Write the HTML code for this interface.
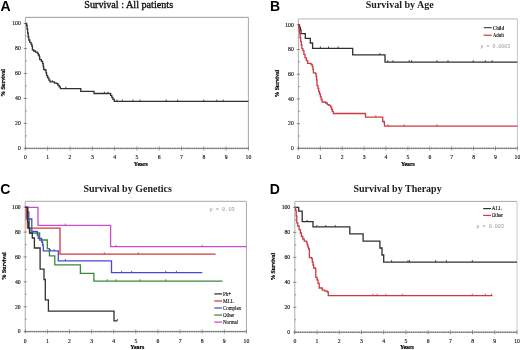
<!DOCTYPE html>
<html><head><meta charset="utf-8"><title>Survival curves</title>
<style>html,body{margin:0;padding:0;background:#fff;width:520px;height:350px;overflow:hidden}svg{display:block;will-change:transform}</style>
</head><body>
<svg width="520" height="350" viewBox="0 0 520 350">
<style>
text{font-family:"Liberation Serif",serif;fill:#222}
.lab{font-size:6.4px;fill:#111;stroke:#111;stroke-width:0.16px}
.ttl{font-size:10.2px;fill:#111;stroke:#111;stroke-width:0.35px}
.ttlb{font-size:10px;font-weight:bold}
.pl{font-family:"Liberation Sans",sans-serif;font-weight:bold;font-size:14px;fill:#000}
.yl{font-size:5.8px;font-weight:bold;fill:#000;stroke:#000;stroke-width:0.2px}
.yr{font-size:6.5px;font-weight:bold;fill:#000;stroke:#000;stroke-width:0.22px}
.leg{font-size:5.5px;fill:#111;stroke:#111;stroke-width:0.12px}
.legb{font-size:5.4px;font-weight:bold;fill:#111}
.pv{font-family:"Liberation Mono",monospace;font-size:5px;fill:#a4a4a4;stroke:#b0b0b0;stroke-width:0.06px}
</style>
<path d="M25.4,17.35H248.4" fill="none" stroke="#9a9a9a" stroke-width="1"/>
<path d="M248.4,17.35V148.4" fill="none" stroke="#a8a8a8" stroke-width="1"/>
<path d="M25.4,17.35V148.4" fill="none" stroke="#b4b4b4" stroke-width="1.1"/>
<path d="M25.4,148.4H248.4" fill="none" stroke="#8a8a8a" stroke-width="1"/>
<path d="M23.799999999999997,148.40H27.0M25.4,135.91H26.799999999999997M23.799999999999997,123.42H27.0M25.4,110.93H26.799999999999997M23.799999999999997,98.44H27.0M25.4,85.95H26.799999999999997M23.799999999999997,73.46H27.0M25.4,60.97H26.799999999999997M23.799999999999997,48.48H27.0M25.4,35.99H26.799999999999997M23.799999999999997,23.50H27.0M25.40,146.4V150.4M27.26,147.6V149.20000000000002M29.12,147.6V149.20000000000002M30.97,147.6V149.20000000000002M32.83,147.6V149.20000000000002M34.69,147.6V149.20000000000002M36.55,147.6V149.20000000000002M38.41,147.6V149.20000000000002M40.27,147.6V149.20000000000002M42.12,147.6V149.20000000000002M43.98,147.6V149.20000000000002M45.84,147.6V149.20000000000002M47.70,146.4V150.4M49.56,147.6V149.20000000000002M51.42,147.6V149.20000000000002M53.27,147.6V149.20000000000002M55.13,147.6V149.20000000000002M56.99,147.6V149.20000000000002M58.85,147.6V149.20000000000002M60.71,147.6V149.20000000000002M62.57,147.6V149.20000000000002M64.42,147.6V149.20000000000002M66.28,147.6V149.20000000000002M68.14,147.6V149.20000000000002M70.00,146.4V150.4M71.86,147.6V149.20000000000002M73.72,147.6V149.20000000000002M75.58,147.6V149.20000000000002M77.43,147.6V149.20000000000002M79.29,147.6V149.20000000000002M81.15,147.6V149.20000000000002M83.01,147.6V149.20000000000002M84.87,147.6V149.20000000000002M86.72,147.6V149.20000000000002M88.58,147.6V149.20000000000002M90.44,147.6V149.20000000000002M92.30,146.4V150.4M94.16,147.6V149.20000000000002M96.02,147.6V149.20000000000002M97.88,147.6V149.20000000000002M99.73,147.6V149.20000000000002M101.59,147.6V149.20000000000002M103.45,147.6V149.20000000000002M105.31,147.6V149.20000000000002M107.17,147.6V149.20000000000002M109.03,147.6V149.20000000000002M110.88,147.6V149.20000000000002M112.74,147.6V149.20000000000002M114.60,146.4V150.4M116.46,147.6V149.20000000000002M118.32,147.6V149.20000000000002M120.17,147.6V149.20000000000002M122.03,147.6V149.20000000000002M123.89,147.6V149.20000000000002M125.75,147.6V149.20000000000002M127.61,147.6V149.20000000000002M129.47,147.6V149.20000000000002M131.33,147.6V149.20000000000002M133.18,147.6V149.20000000000002M135.04,147.6V149.20000000000002M136.90,146.4V150.4M138.76,147.6V149.20000000000002M140.62,147.6V149.20000000000002M142.47,147.6V149.20000000000002M144.33,147.6V149.20000000000002M146.19,147.6V149.20000000000002M148.05,147.6V149.20000000000002M149.91,147.6V149.20000000000002M151.77,147.6V149.20000000000002M153.62,147.6V149.20000000000002M155.48,147.6V149.20000000000002M157.34,147.6V149.20000000000002M159.20,146.4V150.4M161.06,147.6V149.20000000000002M162.92,147.6V149.20000000000002M164.78,147.6V149.20000000000002M166.63,147.6V149.20000000000002M168.49,147.6V149.20000000000002M170.35,147.6V149.20000000000002M172.21,147.6V149.20000000000002M174.07,147.6V149.20000000000002M175.93,147.6V149.20000000000002M177.78,147.6V149.20000000000002M179.64,147.6V149.20000000000002M181.50,146.4V150.4M183.36,147.6V149.20000000000002M185.22,147.6V149.20000000000002M187.08,147.6V149.20000000000002M188.93,147.6V149.20000000000002M190.79,147.6V149.20000000000002M192.65,147.6V149.20000000000002M194.51,147.6V149.20000000000002M196.37,147.6V149.20000000000002M198.23,147.6V149.20000000000002M200.08,147.6V149.20000000000002M201.94,147.6V149.20000000000002M203.80,146.4V150.4M205.66,147.6V149.20000000000002M207.52,147.6V149.20000000000002M209.38,147.6V149.20000000000002M211.23,147.6V149.20000000000002M213.09,147.6V149.20000000000002M214.95,147.6V149.20000000000002M216.81,147.6V149.20000000000002M218.67,147.6V149.20000000000002M220.53,147.6V149.20000000000002M222.38,147.6V149.20000000000002M224.24,147.6V149.20000000000002M226.10,146.4V150.4M227.96,147.6V149.20000000000002M229.82,147.6V149.20000000000002M231.68,147.6V149.20000000000002M233.53,147.6V149.20000000000002M235.39,147.6V149.20000000000002M237.25,147.6V149.20000000000002M239.11,147.6V149.20000000000002M240.97,147.6V149.20000000000002M242.82,147.6V149.20000000000002M244.68,147.6V149.20000000000002M246.54,147.6V149.20000000000002M248.40,146.4V150.4" fill="none" stroke="#6e6e6e" stroke-width="0.8"/>
<text x="20.80" y="150.20" class="lab" text-anchor="end" textLength="2.85" lengthAdjust="spacingAndGlyphs">0</text>
<text x="20.80" y="125.22" class="lab" text-anchor="end" textLength="5.70" lengthAdjust="spacingAndGlyphs">20</text>
<text x="20.80" y="100.24" class="lab" text-anchor="end" textLength="5.70" lengthAdjust="spacingAndGlyphs">40</text>
<text x="20.80" y="75.26" class="lab" text-anchor="end" textLength="5.70" lengthAdjust="spacingAndGlyphs">60</text>
<text x="20.80" y="50.28" class="lab" text-anchor="end" textLength="5.70" lengthAdjust="spacingAndGlyphs">80</text>
<text x="20.80" y="25.30" class="lab" text-anchor="end" textLength="8.55" lengthAdjust="spacingAndGlyphs">100</text>
<text x="25.40" y="159.30" class="lab" text-anchor="middle" textLength="2.85" lengthAdjust="spacingAndGlyphs">0</text>
<text x="47.70" y="159.30" class="lab" text-anchor="middle" textLength="2.85" lengthAdjust="spacingAndGlyphs">1</text>
<text x="70.00" y="159.30" class="lab" text-anchor="middle" textLength="2.85" lengthAdjust="spacingAndGlyphs">2</text>
<text x="92.30" y="159.30" class="lab" text-anchor="middle" textLength="2.85" lengthAdjust="spacingAndGlyphs">3</text>
<text x="114.60" y="159.30" class="lab" text-anchor="middle" textLength="2.85" lengthAdjust="spacingAndGlyphs">4</text>
<text x="136.90" y="159.30" class="lab" text-anchor="middle" textLength="2.85" lengthAdjust="spacingAndGlyphs">5</text>
<text x="159.20" y="159.30" class="lab" text-anchor="middle" textLength="2.85" lengthAdjust="spacingAndGlyphs">6</text>
<text x="181.50" y="159.30" class="lab" text-anchor="middle" textLength="2.85" lengthAdjust="spacingAndGlyphs">7</text>
<text x="203.80" y="159.30" class="lab" text-anchor="middle" textLength="2.85" lengthAdjust="spacingAndGlyphs">8</text>
<text x="226.10" y="159.30" class="lab" text-anchor="middle" textLength="2.85" lengthAdjust="spacingAndGlyphs">9</text>
<text x="248.40" y="159.30" class="lab" text-anchor="middle" textLength="5.70" lengthAdjust="spacingAndGlyphs">10</text>
<text x="0.4" y="11.4" class="pl">A</text>
<text x="84.3" y="7.8" class="ttl" textLength="88.8" lengthAdjust="spacingAndGlyphs">Survival : All patients</text>
<text x="140.8" y="165.7" class="yr" text-anchor="middle" textLength="14" lengthAdjust="spacingAndGlyphs">Years</text>
<text transform="translate(5.4,82.9) rotate(-90)" class="yl" text-anchor="middle" textLength="27.6" lengthAdjust="spacingAndGlyphs">% Survival</text>
<path d="M25.4,23.5H26.6V25.5H27.1V29H27.6V33H28.2V37H28.8V40H29.8V42.3H31V44H31.8V46H32.4V49.8H33.7V51H35.5V52.1H37.4V53.2H38.3V55H39.3V56.7H39.7V59.6H41.4V61.3H42.6V63.6H43.2V66.5H43.7V69.3H44.9V70H46V72.8H46.6V75.6H47.7V77.9H48.9V80.2H50V81.9H54.5V83.1H56.9V83.7H58V85.4H59.2V86.8H60.4V88.6H80.8V91.3H94V93.5H110.6V95.3H111.8V97.3H112.9V99.3H114.3V101.4H248.4" fill="none" stroke="#303030" stroke-width="1.3" stroke-linejoin="miter"/>
<path d="M65.8,88.6v-1.8" fill="none" stroke="#303030" stroke-width="0.9"/>
<path d="M52.3,81.9v-1.8" fill="none" stroke="#303030" stroke-width="0.9"/>
<path d="M104.4,93.5v-1.8M107.9,93.5v-1.8" fill="none" stroke="#303030" stroke-width="0.9"/>
<path d="M116.9,101.4v-1.8M122.3,101.4v-1.8M133,101.4v-1.8M140,101.4v-1.8M166.2,101.4v-1.8M177.7,101.4v-1.8M203.8,101.4v-1.8M216.9,101.4v-1.8M223.1,101.4v-1.8" fill="none" stroke="#303030" stroke-width="0.9"/>
<path d="M298.4,18.9H517.4" fill="none" stroke="#b8b8b8" stroke-width="1"/>
<path d="M517.4,18.9V148.35" fill="none" stroke="#c8c8c8" stroke-width="1"/>
<path d="M298.4,18.9V148.35" fill="none" stroke="#b4b4b4" stroke-width="1.1"/>
<path d="M298.4,148.35H517.4" fill="none" stroke="#8a8a8a" stroke-width="1"/>
<path d="M296.79999999999995,148.35H300.0M298.4,136.00H299.79999999999995M296.79999999999995,123.64H300.0M298.4,111.28H299.79999999999995M296.79999999999995,98.93H300.0M298.4,86.57H299.79999999999995M296.79999999999995,74.22H300.0M298.4,61.86H299.79999999999995M296.79999999999995,49.51H300.0M298.4,37.15H299.79999999999995M296.79999999999995,24.80H300.0M298.40,146.35V150.35M300.22,147.54999999999998V149.15M302.05,147.54999999999998V149.15M303.88,147.54999999999998V149.15M305.70,147.54999999999998V149.15M307.52,147.54999999999998V149.15M309.35,147.54999999999998V149.15M311.17,147.54999999999998V149.15M313.00,147.54999999999998V149.15M314.82,147.54999999999998V149.15M316.65,147.54999999999998V149.15M318.47,147.54999999999998V149.15M320.30,146.35V150.35M322.12,147.54999999999998V149.15M323.95,147.54999999999998V149.15M325.77,147.54999999999998V149.15M327.60,147.54999999999998V149.15M329.42,147.54999999999998V149.15M331.25,147.54999999999998V149.15M333.07,147.54999999999998V149.15M334.90,147.54999999999998V149.15M336.72,147.54999999999998V149.15M338.55,147.54999999999998V149.15M340.38,147.54999999999998V149.15M342.20,146.35V150.35M344.02,147.54999999999998V149.15M345.85,147.54999999999998V149.15M347.67,147.54999999999998V149.15M349.50,147.54999999999998V149.15M351.32,147.54999999999998V149.15M353.15,147.54999999999998V149.15M354.97,147.54999999999998V149.15M356.80,147.54999999999998V149.15M358.62,147.54999999999998V149.15M360.45,147.54999999999998V149.15M362.27,147.54999999999998V149.15M364.10,146.35V150.35M365.92,147.54999999999998V149.15M367.75,147.54999999999998V149.15M369.57,147.54999999999998V149.15M371.40,147.54999999999998V149.15M373.22,147.54999999999998V149.15M375.05,147.54999999999998V149.15M376.88,147.54999999999998V149.15M378.70,147.54999999999998V149.15M380.52,147.54999999999998V149.15M382.35,147.54999999999998V149.15M384.17,147.54999999999998V149.15M386.00,146.35V150.35M387.82,147.54999999999998V149.15M389.65,147.54999999999998V149.15M391.47,147.54999999999998V149.15M393.30,147.54999999999998V149.15M395.12,147.54999999999998V149.15M396.95,147.54999999999998V149.15M398.77,147.54999999999998V149.15M400.60,147.54999999999998V149.15M402.42,147.54999999999998V149.15M404.25,147.54999999999998V149.15M406.07,147.54999999999998V149.15M407.90,146.35V150.35M409.72,147.54999999999998V149.15M411.55,147.54999999999998V149.15M413.37,147.54999999999998V149.15M415.20,147.54999999999998V149.15M417.02,147.54999999999998V149.15M418.85,147.54999999999998V149.15M420.67,147.54999999999998V149.15M422.50,147.54999999999998V149.15M424.32,147.54999999999998V149.15M426.15,147.54999999999998V149.15M427.97,147.54999999999998V149.15M429.80,146.35V150.35M431.62,147.54999999999998V149.15M433.45,147.54999999999998V149.15M435.27,147.54999999999998V149.15M437.10,147.54999999999998V149.15M438.92,147.54999999999998V149.15M440.75,147.54999999999998V149.15M442.57,147.54999999999998V149.15M444.40,147.54999999999998V149.15M446.22,147.54999999999998V149.15M448.05,147.54999999999998V149.15M449.88,147.54999999999998V149.15M451.70,146.35V150.35M453.52,147.54999999999998V149.15M455.35,147.54999999999998V149.15M457.17,147.54999999999998V149.15M459.00,147.54999999999998V149.15M460.82,147.54999999999998V149.15M462.65,147.54999999999998V149.15M464.47,147.54999999999998V149.15M466.30,147.54999999999998V149.15M468.12,147.54999999999998V149.15M469.95,147.54999999999998V149.15M471.77,147.54999999999998V149.15M473.60,146.35V150.35M475.42,147.54999999999998V149.15M477.25,147.54999999999998V149.15M479.07,147.54999999999998V149.15M480.90,147.54999999999998V149.15M482.72,147.54999999999998V149.15M484.55,147.54999999999998V149.15M486.38,147.54999999999998V149.15M488.20,147.54999999999998V149.15M490.02,147.54999999999998V149.15M491.85,147.54999999999998V149.15M493.67,147.54999999999998V149.15M495.50,146.35V150.35M497.32,147.54999999999998V149.15M499.15,147.54999999999998V149.15M500.97,147.54999999999998V149.15M502.80,147.54999999999998V149.15M504.62,147.54999999999998V149.15M506.45,147.54999999999998V149.15M508.27,147.54999999999998V149.15M510.10,147.54999999999998V149.15M511.92,147.54999999999998V149.15M513.75,147.54999999999998V149.15M515.57,147.54999999999998V149.15M517.40,146.35V150.35" fill="none" stroke="#6e6e6e" stroke-width="0.8"/>
<text x="293.80" y="150.15" class="lab" text-anchor="end" textLength="2.85" lengthAdjust="spacingAndGlyphs">0</text>
<text x="293.80" y="125.44" class="lab" text-anchor="end" textLength="5.70" lengthAdjust="spacingAndGlyphs">20</text>
<text x="293.80" y="100.73" class="lab" text-anchor="end" textLength="5.70" lengthAdjust="spacingAndGlyphs">40</text>
<text x="293.80" y="76.02" class="lab" text-anchor="end" textLength="5.70" lengthAdjust="spacingAndGlyphs">60</text>
<text x="293.80" y="51.31" class="lab" text-anchor="end" textLength="5.70" lengthAdjust="spacingAndGlyphs">80</text>
<text x="293.80" y="26.60" class="lab" text-anchor="end" textLength="8.55" lengthAdjust="spacingAndGlyphs">100</text>
<text x="298.40" y="159.25" class="lab" text-anchor="middle" textLength="2.85" lengthAdjust="spacingAndGlyphs">0</text>
<text x="320.30" y="159.25" class="lab" text-anchor="middle" textLength="2.85" lengthAdjust="spacingAndGlyphs">1</text>
<text x="342.20" y="159.25" class="lab" text-anchor="middle" textLength="2.85" lengthAdjust="spacingAndGlyphs">2</text>
<text x="364.10" y="159.25" class="lab" text-anchor="middle" textLength="2.85" lengthAdjust="spacingAndGlyphs">3</text>
<text x="386.00" y="159.25" class="lab" text-anchor="middle" textLength="2.85" lengthAdjust="spacingAndGlyphs">4</text>
<text x="407.90" y="159.25" class="lab" text-anchor="middle" textLength="2.85" lengthAdjust="spacingAndGlyphs">5</text>
<text x="429.80" y="159.25" class="lab" text-anchor="middle" textLength="2.85" lengthAdjust="spacingAndGlyphs">6</text>
<text x="451.70" y="159.25" class="lab" text-anchor="middle" textLength="2.85" lengthAdjust="spacingAndGlyphs">7</text>
<text x="473.60" y="159.25" class="lab" text-anchor="middle" textLength="2.85" lengthAdjust="spacingAndGlyphs">8</text>
<text x="495.50" y="159.25" class="lab" text-anchor="middle" textLength="2.85" lengthAdjust="spacingAndGlyphs">9</text>
<text x="517.40" y="159.25" class="lab" text-anchor="middle" textLength="5.70" lengthAdjust="spacingAndGlyphs">10</text>
<text x="270" y="11.4" class="pl">B</text>
<text x="365.8" y="7.7" class="ttlb">Survival by Age</text>
<text x="407.9" y="165.7" class="yr" text-anchor="middle" textLength="14" lengthAdjust="spacingAndGlyphs">Years</text>
<text transform="translate(278.7,83.6) rotate(-90)" class="yl" text-anchor="middle" textLength="27.6" lengthAdjust="spacingAndGlyphs">% Survival</text>
<path d="M298.4,24.8H299.5V27.5H300.3V30H301V33.6H305.3V38.3H310.3V43H312.6V48.3H352.7V54.9H385V62.05H517.4" fill="none" stroke="#303030" stroke-width="1.3" stroke-linejoin="miter"/>
<path d="M320.4,48.3v-1.8M328.5,48.3v-1.8M338.1,48.3v-1.8" fill="none" stroke="#303030" stroke-width="0.9"/>
<path d="M379.8,54.9v-1.8" fill="none" stroke="#303030" stroke-width="0.9"/>
<path d="M387.8,62.05v-1.8M393,62.05v-1.8M409.2,62.05v-1.8M411.6,62.05v-1.8M436.9,62.05v-1.8M448,62.05v-1.8M473.2,62.05v-1.8M485.3,62.05v-1.8M492.2,62.05v-1.8" fill="none" stroke="#303030" stroke-width="0.9"/>
<path d="M298.4,24.8H298.8V27.9H299.3V31H299.7V34.3H300.2V38H300.7V41.4H301.3V45H301.9V48.6H302.9V50.7H303.9V54.3H305V57.9H306.4V60.7H307.6V63.4H311V64.3H312.2V66.4H312.9V69.3H313.4V72.9H315.6V73.7H316.1V76.3H316.6V80H317V85.7H318V88.5H318.7V91.7H319.5V94H320.4V96.9H321.2V99.5H322.1V102H325.6V103H327.3V104.6H329V105.4H330.7V107.2H331.6V109.5H332.4V111.4H333.3V113.5H365.5V117.2H382.7V121.5H384.2V123H384.5V126.2H517.5" fill="none" stroke="#cc3a42" stroke-width="1.3" stroke-linejoin="miter"/>
<path d="M375.8,117.2v-1.8" fill="none" stroke="#cc3a42" stroke-width="0.9"/>
<path d="M388,126.2v-1.8M404.2,126.2v-1.8M436.9,126.2v-1.8" fill="none" stroke="#cc3a42" stroke-width="0.9"/>
<path d="M483.8,27.7H491.8" stroke="#303030" stroke-width="1.05"/>
<path d="M483.6,35.2H491.8" stroke="#cc3a42" stroke-width="1.2"/>
<text x="492.8" y="29.8" class="legb" textLength="11.2" lengthAdjust="spacingAndGlyphs">Child</text>
<text x="493.1" y="36.5" class="legb" textLength="10.9" lengthAdjust="spacingAndGlyphs">Adult</text>
<text x="480.5" y="47.7" class="pv" textLength="29.8" lengthAdjust="spacingAndGlyphs">p = 0.0003</text>
<path d="M25.25,201.3H246.4" fill="none" stroke="#a8a8a8" stroke-width="1"/>
<path d="M246.4,201.3V331.6" fill="none" stroke="#a8a8a8" stroke-width="1"/>
<path d="M25.25,201.3V331.6" fill="none" stroke="#b4b4b4" stroke-width="1.1"/>
<path d="M25.25,331.6H246.4" fill="none" stroke="#8a8a8a" stroke-width="1"/>
<path d="M23.65,331.60H26.85M25.25,319.16H26.65M23.65,306.72H26.85M25.25,294.28H26.65M23.65,281.84H26.85M25.25,269.40H26.65M23.65,256.96H26.85M25.25,244.52H26.65M23.65,232.08H26.85M25.25,219.64H26.65M23.65,207.20H26.85M25.25,329.6V333.6M27.09,330.8V332.40000000000003M28.94,330.8V332.40000000000003M30.78,330.8V332.40000000000003M32.62,330.8V332.40000000000003M34.46,330.8V332.40000000000003M36.31,330.8V332.40000000000003M38.15,330.8V332.40000000000003M39.99,330.8V332.40000000000003M41.84,330.8V332.40000000000003M43.68,330.8V332.40000000000003M45.52,330.8V332.40000000000003M47.36,329.6V333.6M49.21,330.8V332.40000000000003M51.05,330.8V332.40000000000003M52.89,330.8V332.40000000000003M54.74,330.8V332.40000000000003M56.58,330.8V332.40000000000003M58.42,330.8V332.40000000000003M60.27,330.8V332.40000000000003M62.11,330.8V332.40000000000003M63.95,330.8V332.40000000000003M65.79,330.8V332.40000000000003M67.64,330.8V332.40000000000003M69.48,329.6V333.6M71.32,330.8V332.40000000000003M73.17,330.8V332.40000000000003M75.01,330.8V332.40000000000003M76.85,330.8V332.40000000000003M78.69,330.8V332.40000000000003M80.54,330.8V332.40000000000003M82.38,330.8V332.40000000000003M84.22,330.8V332.40000000000003M86.07,330.8V332.40000000000003M87.91,330.8V332.40000000000003M89.75,330.8V332.40000000000003M91.60,329.6V333.6M93.44,330.8V332.40000000000003M95.28,330.8V332.40000000000003M97.12,330.8V332.40000000000003M98.97,330.8V332.40000000000003M100.81,330.8V332.40000000000003M102.65,330.8V332.40000000000003M104.50,330.8V332.40000000000003M106.34,330.8V332.40000000000003M108.18,330.8V332.40000000000003M110.02,330.8V332.40000000000003M111.87,330.8V332.40000000000003M113.71,329.6V333.6M115.55,330.8V332.40000000000003M117.40,330.8V332.40000000000003M119.24,330.8V332.40000000000003M121.08,330.8V332.40000000000003M122.92,330.8V332.40000000000003M124.77,330.8V332.40000000000003M126.61,330.8V332.40000000000003M128.45,330.8V332.40000000000003M130.30,330.8V332.40000000000003M132.14,330.8V332.40000000000003M133.98,330.8V332.40000000000003M135.82,329.6V333.6M137.67,330.8V332.40000000000003M139.51,330.8V332.40000000000003M141.35,330.8V332.40000000000003M143.20,330.8V332.40000000000003M145.04,330.8V332.40000000000003M146.88,330.8V332.40000000000003M148.73,330.8V332.40000000000003M150.57,330.8V332.40000000000003M152.41,330.8V332.40000000000003M154.25,330.8V332.40000000000003M156.10,330.8V332.40000000000003M157.94,329.6V333.6M159.78,330.8V332.40000000000003M161.63,330.8V332.40000000000003M163.47,330.8V332.40000000000003M165.31,330.8V332.40000000000003M167.15,330.8V332.40000000000003M169.00,330.8V332.40000000000003M170.84,330.8V332.40000000000003M172.68,330.8V332.40000000000003M174.53,330.8V332.40000000000003M176.37,330.8V332.40000000000003M178.21,330.8V332.40000000000003M180.06,329.6V333.6M181.90,330.8V332.40000000000003M183.74,330.8V332.40000000000003M185.58,330.8V332.40000000000003M187.43,330.8V332.40000000000003M189.27,330.8V332.40000000000003M191.11,330.8V332.40000000000003M192.96,330.8V332.40000000000003M194.80,330.8V332.40000000000003M196.64,330.8V332.40000000000003M198.48,330.8V332.40000000000003M200.33,330.8V332.40000000000003M202.17,329.6V333.6M204.01,330.8V332.40000000000003M205.86,330.8V332.40000000000003M207.70,330.8V332.40000000000003M209.54,330.8V332.40000000000003M211.38,330.8V332.40000000000003M213.23,330.8V332.40000000000003M215.07,330.8V332.40000000000003M216.91,330.8V332.40000000000003M218.76,330.8V332.40000000000003M220.60,330.8V332.40000000000003M222.44,330.8V332.40000000000003M224.28,329.6V333.6M226.13,330.8V332.40000000000003M227.97,330.8V332.40000000000003M229.81,330.8V332.40000000000003M231.66,330.8V332.40000000000003M233.50,330.8V332.40000000000003M235.34,330.8V332.40000000000003M237.19,330.8V332.40000000000003M239.03,330.8V332.40000000000003M240.87,330.8V332.40000000000003M242.71,330.8V332.40000000000003M244.56,330.8V332.40000000000003M246.40,329.6V333.6" fill="none" stroke="#6e6e6e" stroke-width="0.8"/>
<text x="20.65" y="333.40" class="lab" text-anchor="end" textLength="2.85" lengthAdjust="spacingAndGlyphs">0</text>
<text x="20.65" y="308.52" class="lab" text-anchor="end" textLength="5.70" lengthAdjust="spacingAndGlyphs">20</text>
<text x="20.65" y="283.64" class="lab" text-anchor="end" textLength="5.70" lengthAdjust="spacingAndGlyphs">40</text>
<text x="20.65" y="258.76" class="lab" text-anchor="end" textLength="5.70" lengthAdjust="spacingAndGlyphs">60</text>
<text x="20.65" y="233.88" class="lab" text-anchor="end" textLength="5.70" lengthAdjust="spacingAndGlyphs">80</text>
<text x="20.65" y="209.00" class="lab" text-anchor="end" textLength="8.55" lengthAdjust="spacingAndGlyphs">100</text>
<text x="25.25" y="342.50" class="lab" text-anchor="middle" textLength="2.85" lengthAdjust="spacingAndGlyphs">0</text>
<text x="47.37" y="342.50" class="lab" text-anchor="middle" textLength="2.85" lengthAdjust="spacingAndGlyphs">1</text>
<text x="69.48" y="342.50" class="lab" text-anchor="middle" textLength="2.85" lengthAdjust="spacingAndGlyphs">2</text>
<text x="91.59" y="342.50" class="lab" text-anchor="middle" textLength="2.85" lengthAdjust="spacingAndGlyphs">3</text>
<text x="113.71" y="342.50" class="lab" text-anchor="middle" textLength="2.85" lengthAdjust="spacingAndGlyphs">4</text>
<text x="135.83" y="342.50" class="lab" text-anchor="middle" textLength="2.85" lengthAdjust="spacingAndGlyphs">5</text>
<text x="157.94" y="342.50" class="lab" text-anchor="middle" textLength="2.85" lengthAdjust="spacingAndGlyphs">6</text>
<text x="180.06" y="342.50" class="lab" text-anchor="middle" textLength="2.85" lengthAdjust="spacingAndGlyphs">7</text>
<text x="202.17" y="342.50" class="lab" text-anchor="middle" textLength="2.85" lengthAdjust="spacingAndGlyphs">8</text>
<text x="224.29" y="342.50" class="lab" text-anchor="middle" textLength="2.85" lengthAdjust="spacingAndGlyphs">9</text>
<text x="246.40" y="342.50" class="lab" text-anchor="middle" textLength="5.70" lengthAdjust="spacingAndGlyphs">10</text>
<text x="0.3" y="193.8" class="pl">C</text>
<text x="83.5" y="192" class="ttlb">Survival by Genetics</text>
<text x="137.3" y="348.5" class="yr" text-anchor="middle" textLength="14" lengthAdjust="spacingAndGlyphs">Years</text>
<text transform="translate(5.6,266.2) rotate(-90)" class="yl" text-anchor="middle" textLength="27.6" lengthAdjust="spacingAndGlyphs">% Survival</text>
<path d="M25.25,207.3H38V225.3H110.6V246.6H246.4" fill="none" stroke="#c64ccc" stroke-width="1.3" stroke-linejoin="miter"/>
<path d="M65.4,225.3v-1.8" fill="none" stroke="#c64ccc" stroke-width="0.9"/>
<path d="M115.9,246.6v-1.8M202.3,246.6v-1.8" fill="none" stroke="#c64ccc" stroke-width="0.9"/>
<path d="M25.25,207.3H26.3V218H27.4V228.2H60V254.2H215.6" fill="none" stroke="#cc3a42" stroke-width="1.3" stroke-linejoin="miter"/>
<path d="M104.3,254.2v-1.8M138.3,254.2v-1.8" fill="none" stroke="#cc3a42" stroke-width="0.9"/>
<path d="M25.2,207.4H27.6V220H29.3V228H30V233H39.6V240H47.3V248.6H49.4V255.9H54.8V264.8H80.4V273.3H93.9V281.1H222.5" fill="none" stroke="#3a883a" stroke-width="1.3" stroke-linejoin="miter"/>
<path d="M107.2,281.1v-1.8M115.9,281.1v-1.8M139.8,281.1v-1.8M165.7,281.1v-1.8" fill="none" stroke="#3a883a" stroke-width="0.9"/>
<path d="M25.2,207.4H27.6V212H28.8V219H31.8V231.4H37.3V235H38.3V238.3H41.6V242H42.6V245H43.3V250.9H58.3V260.8H111.5V272.6H202.3" fill="none" stroke="#4848d0" stroke-width="1.3" stroke-linejoin="miter"/>
<path d="M50.5,250.9v-1.8M54,250.9v-1.8" fill="none" stroke="#4848d0" stroke-width="0.9"/>
<path d="M65.4,260.8v-1.8" fill="none" stroke="#4848d0" stroke-width="0.9"/>
<path d="M121.6,272.6v-1.8M131.7,272.6v-1.8M165.7,272.6v-1.8M176.4,272.6v-1.8" fill="none" stroke="#4848d0" stroke-width="0.9"/>
<path d="M25.2,207.4H27.6V222H28.4V228H29.5V233H32.3V238H34.4V248H40.1V269.1H44V279.5H45.3V299.9H48.4V311.1H114V320.8H117.3" fill="none" stroke="#303030" stroke-width="1.3" stroke-linejoin="miter"/>
<path d="M117.3,320.8v-1.8" fill="none" stroke="#303030" stroke-width="0.9"/>
<path d="M214.3,293.90H222.1" stroke="#303030" stroke-width="1.25"/>
<text x="222.9" y="295.55" class="leg" textLength="8.3" lengthAdjust="spacingAndGlyphs">Ph+</text>
<path d="M214.3,300.95H222.1" stroke="#cc3a42" stroke-width="1.25"/>
<text x="222.9" y="302.60" class="leg" textLength="11" lengthAdjust="spacingAndGlyphs">MLL</text>
<path d="M214.3,308.00H222.1" stroke="#4848d0" stroke-width="1.25"/>
<text x="222.9" y="309.65" class="leg" textLength="18.3" lengthAdjust="spacingAndGlyphs">Complex</text>
<path d="M214.3,315.05H222.1" stroke="#3a883a" stroke-width="1.25"/>
<text x="222.9" y="316.70" class="leg" textLength="11.4" lengthAdjust="spacingAndGlyphs">Other</text>
<path d="M214.3,322.10H222.1" stroke="#c64ccc" stroke-width="1.25"/>
<text x="222.9" y="323.75" class="leg" textLength="15.3" lengthAdjust="spacingAndGlyphs">Normal</text>
<text x="209.4" y="210.8" class="pv" textLength="25.4" lengthAdjust="spacingAndGlyphs">p = 0.03</text>
<path d="M294.8,201.4H517.0" fill="none" stroke="#a8a8a8" stroke-width="1"/>
<path d="M517.0,201.4V332.25" fill="none" stroke="#c8c8c8" stroke-width="1"/>
<path d="M294.8,201.4V332.25" fill="none" stroke="#b4b4b4" stroke-width="1.1"/>
<path d="M294.8,332.25H517.0" fill="none" stroke="#8a8a8a" stroke-width="1"/>
<path d="M293.2,332.25H296.40000000000003M294.8,319.76H296.2M293.2,307.28H296.40000000000003M294.8,294.80H296.2M293.2,282.31H296.40000000000003M294.8,269.82H296.2M293.2,257.34H296.40000000000003M294.8,244.86H296.2M293.2,232.37H296.40000000000003M294.8,219.88H296.2M293.2,207.40H296.40000000000003M294.80,330.25V334.25M296.65,331.45V333.05M298.50,331.45V333.05M300.36,331.45V333.05M302.21,331.45V333.05M304.06,331.45V333.05M305.91,331.45V333.05M307.76,331.45V333.05M309.61,331.45V333.05M311.47,331.45V333.05M313.32,331.45V333.05M315.17,331.45V333.05M317.02,330.25V334.25M318.87,331.45V333.05M320.72,331.45V333.05M322.57,331.45V333.05M324.43,331.45V333.05M326.28,331.45V333.05M328.13,331.45V333.05M329.98,331.45V333.05M331.83,331.45V333.05M333.69,331.45V333.05M335.54,331.45V333.05M337.39,331.45V333.05M339.24,330.25V334.25M341.09,331.45V333.05M342.94,331.45V333.05M344.80,331.45V333.05M346.65,331.45V333.05M348.50,331.45V333.05M350.35,331.45V333.05M352.20,331.45V333.05M354.05,331.45V333.05M355.91,331.45V333.05M357.76,331.45V333.05M359.61,331.45V333.05M361.46,330.25V334.25M363.31,331.45V333.05M365.16,331.45V333.05M367.01,331.45V333.05M368.87,331.45V333.05M370.72,331.45V333.05M372.57,331.45V333.05M374.42,331.45V333.05M376.27,331.45V333.05M378.12,331.45V333.05M379.98,331.45V333.05M381.83,331.45V333.05M383.68,330.25V334.25M385.53,331.45V333.05M387.38,331.45V333.05M389.24,331.45V333.05M391.09,331.45V333.05M392.94,331.45V333.05M394.79,331.45V333.05M396.64,331.45V333.05M398.49,331.45V333.05M400.35,331.45V333.05M402.20,331.45V333.05M404.05,331.45V333.05M405.90,330.25V334.25M407.75,331.45V333.05M409.60,331.45V333.05M411.45,331.45V333.05M413.31,331.45V333.05M415.16,331.45V333.05M417.01,331.45V333.05M418.86,331.45V333.05M420.71,331.45V333.05M422.56,331.45V333.05M424.42,331.45V333.05M426.27,331.45V333.05M428.12,330.25V334.25M429.97,331.45V333.05M431.82,331.45V333.05M433.68,331.45V333.05M435.53,331.45V333.05M437.38,331.45V333.05M439.23,331.45V333.05M441.08,331.45V333.05M442.93,331.45V333.05M444.78,331.45V333.05M446.64,331.45V333.05M448.49,331.45V333.05M450.34,330.25V334.25M452.19,331.45V333.05M454.04,331.45V333.05M455.89,331.45V333.05M457.75,331.45V333.05M459.60,331.45V333.05M461.45,331.45V333.05M463.30,331.45V333.05M465.15,331.45V333.05M467.00,331.45V333.05M468.86,331.45V333.05M470.71,331.45V333.05M472.56,330.25V334.25M474.41,331.45V333.05M476.26,331.45V333.05M478.12,331.45V333.05M479.97,331.45V333.05M481.82,331.45V333.05M483.67,331.45V333.05M485.52,331.45V333.05M487.37,331.45V333.05M489.23,331.45V333.05M491.08,331.45V333.05M492.93,331.45V333.05M494.78,330.25V334.25M496.63,331.45V333.05M498.48,331.45V333.05M500.34,331.45V333.05M502.19,331.45V333.05M504.04,331.45V333.05M505.89,331.45V333.05M507.74,331.45V333.05M509.59,331.45V333.05M511.44,331.45V333.05M513.30,331.45V333.05M515.15,331.45V333.05M517.00,330.25V334.25" fill="none" stroke="#6e6e6e" stroke-width="0.8"/>
<text x="290.20" y="334.05" class="lab" text-anchor="end" textLength="2.85" lengthAdjust="spacingAndGlyphs">0</text>
<text x="290.20" y="309.08" class="lab" text-anchor="end" textLength="5.70" lengthAdjust="spacingAndGlyphs">20</text>
<text x="290.20" y="284.11" class="lab" text-anchor="end" textLength="5.70" lengthAdjust="spacingAndGlyphs">40</text>
<text x="290.20" y="259.14" class="lab" text-anchor="end" textLength="5.70" lengthAdjust="spacingAndGlyphs">60</text>
<text x="290.20" y="234.17" class="lab" text-anchor="end" textLength="5.70" lengthAdjust="spacingAndGlyphs">80</text>
<text x="290.20" y="209.20" class="lab" text-anchor="end" textLength="8.55" lengthAdjust="spacingAndGlyphs">100</text>
<text x="294.80" y="343.15" class="lab" text-anchor="middle" textLength="2.85" lengthAdjust="spacingAndGlyphs">0</text>
<text x="317.02" y="343.15" class="lab" text-anchor="middle" textLength="2.85" lengthAdjust="spacingAndGlyphs">1</text>
<text x="339.24" y="343.15" class="lab" text-anchor="middle" textLength="2.85" lengthAdjust="spacingAndGlyphs">2</text>
<text x="361.46" y="343.15" class="lab" text-anchor="middle" textLength="2.85" lengthAdjust="spacingAndGlyphs">3</text>
<text x="383.68" y="343.15" class="lab" text-anchor="middle" textLength="2.85" lengthAdjust="spacingAndGlyphs">4</text>
<text x="405.90" y="343.15" class="lab" text-anchor="middle" textLength="2.85" lengthAdjust="spacingAndGlyphs">5</text>
<text x="428.12" y="343.15" class="lab" text-anchor="middle" textLength="2.85" lengthAdjust="spacingAndGlyphs">6</text>
<text x="450.34" y="343.15" class="lab" text-anchor="middle" textLength="2.85" lengthAdjust="spacingAndGlyphs">7</text>
<text x="472.56" y="343.15" class="lab" text-anchor="middle" textLength="2.85" lengthAdjust="spacingAndGlyphs">8</text>
<text x="494.78" y="343.15" class="lab" text-anchor="middle" textLength="2.85" lengthAdjust="spacingAndGlyphs">9</text>
<text x="517.00" y="343.15" class="lab" text-anchor="middle" textLength="5.70" lengthAdjust="spacingAndGlyphs">10</text>
<text x="269.8" y="193.8" class="pl">D</text>
<text x="353.5" y="192.3" class="ttlb">Survival by Therapy</text>
<text x="406.9" y="348.8" class="yr" text-anchor="middle" textLength="14" lengthAdjust="spacingAndGlyphs">Years</text>
<text transform="translate(275.1,266.8) rotate(-90)" class="yl" text-anchor="middle" textLength="27.6" lengthAdjust="spacingAndGlyphs">% Survival</text>
<path d="M294.8,207.3H298.7V211.2H302.2V221.6H313V226.9H349.8V233.8H363.1V241.1H379.9V248H382V255H383.7V262.1H517" fill="none" stroke="#303030" stroke-width="1.3" stroke-linejoin="miter"/>
<path d="M307.1,221.7v-1.8" fill="none" stroke="#303030" stroke-width="0.9"/>
<path d="M316.9,226.9v-1.8M325.8,226.9v-1.8M335.2,226.9v-1.8" fill="none" stroke="#303030" stroke-width="0.9"/>
<path d="M391.6,262v-1.8M408,262v-1.8M409.5,262v-1.8M435.7,262v-1.8M446.4,262v-1.8M472.3,262v-1.8" fill="none" stroke="#303030" stroke-width="0.9"/>
<path d="M294.8,207.3H295.6V210.3H296.2V216H296.8V222.8H297.8V226H299.1V229.7H300.3V233H301.4V236.5H302.8V239H304.2V241.1H306.4V242.2H307.1V244.5H307.8V246.8H308.6V249H309.4V257.7H311.6V258.6H312.3V262H313V265H313.7V268H315.4V268.8H315.8V277.4H317.1V280H318V283.4H319.2V288H322.3V290.2H324.8V291.1H327.4V292H328.3V295.6H492.5" fill="none" stroke="#cc3a42" stroke-width="1.3" stroke-linejoin="miter"/>
<path d="M372.9,295.6v-1.8M377.2,295.6v-1.8M385.9,295.6v-1.8M402.3,295.6v-1.8M472.3,295.6v-1.8M485.3,295.6v-1.8M491.6,295.6v-1.8" fill="none" stroke="#cc3a42" stroke-width="0.9"/>
<path d="M483.2,208.6H491" stroke="#303030" stroke-width="1.2"/>
<path d="M483.2,215.4H491" stroke="#cc3a42" stroke-width="1.2"/>
<text x="491.7" y="210.3" class="leg" textLength="10.1" lengthAdjust="spacingAndGlyphs">ALL</text>
<text x="491.7" y="216.9" class="leg" textLength="11.3" lengthAdjust="spacingAndGlyphs">Other</text>
<text x="476.4" y="227.8" class="pv" textLength="27.7" lengthAdjust="spacingAndGlyphs">p = 0.003</text>
</svg>
</body></html>
